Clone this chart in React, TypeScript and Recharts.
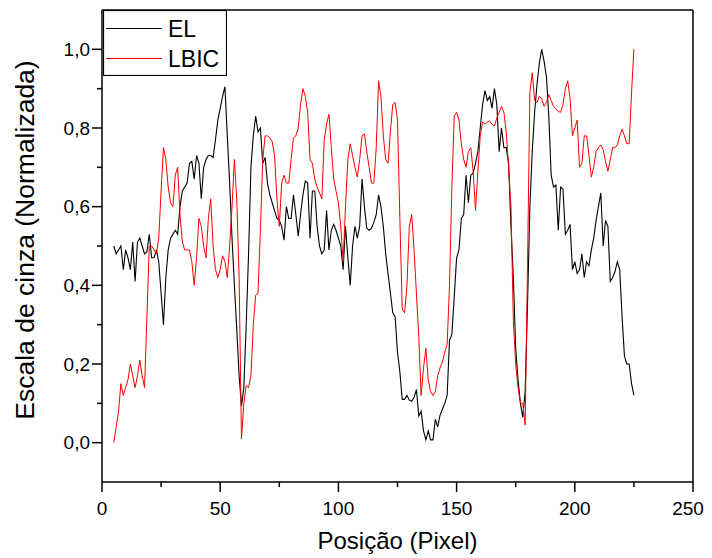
import React from 'react';
import { LineChart, Line, XAxis, YAxis, Legend, ReferenceLine } from 'recharts';

// pixel positions along the profile
const positions = Array.from({ length: 221 }, (_, i) => 5 + i);

const elValues = [
  0.5, 0.48, 0.49, 0.5, 0.44, 0.49, 0.47, 0.44, 0.51, 0.41,
  0.51, 0.52, 0.5, 0.48, 0.485, 0.53, 0.47, 0.47, 0.49, 0.46,
  0.38, 0.3, 0.42, 0.49, 0.52, 0.53, 0.54, 0.53, 0.6, 0.64,
  0.65, 0.66, 0.71, 0.715, 0.67, 0.73, 0.71, 0.62, 0.7, 0.72,
  0.73, 0.73, 0.725, 0.77, 0.82, 0.85, 0.88, 0.905, 0.78, 0.66,
  0.52, 0.4, 0.29, 0.17, 0.093, 0.14, 0.3, 0.48, 0.7, 0.78,
  0.83, 0.79, 0.8, 0.71, 0.725, 0.66, 0.63, 0.61, 0.59, 0.57,
  0.565, 0.55, 0.515, 0.6, 0.57, 0.57, 0.63, 0.58, 0.525, 0.58,
  0.63, 0.665, 0.66, 0.52, 0.64, 0.64, 0.55, 0.5, 0.48, 0.49,
  0.59, 0.49, 0.54, 0.555, 0.54, 0.52, 0.5, 0.44, 0.55, 0.47,
  0.4, 0.5, 0.55, 0.52, 0.55, 0.67, 0.6, 0.545, 0.54, 0.545,
  0.56, 0.58, 0.63, 0.6, 0.55, 0.48, 0.43, 0.38, 0.33, 0.32,
  0.23, 0.18, 0.11, 0.11, 0.12, 0.108, 0.105, 0.115, 0.135, 0.068,
  0.08, 0.03, 0.007, 0.03, 0.007, 0.007, 0.06, 0.04, 0.07, 0.085,
  0.1, 0.12, 0.26, 0.275, 0.37, 0.47, 0.49, 0.57, 0.58, 0.68,
  0.61, 0.68, 0.685, 0.71, 0.74, 0.8, 0.86, 0.895, 0.87, 0.88,
  0.85, 0.9, 0.86, 0.74, 0.8, 0.75, 0.75, 0.71, 0.55, 0.42,
  0.24, 0.16, 0.1, 0.065, 0.13, 0.35, 0.6, 0.74, 0.84, 0.91,
  0.965, 1.0, 0.97, 0.93, 0.83, 0.68, 0.65, 0.655, 0.54, 0.65,
  0.645, 0.53, 0.54, 0.555, 0.44, 0.46, 0.43, 0.44, 0.48, 0.42,
  0.46, 0.45, 0.49, 0.52, 0.565, 0.6, 0.635, 0.5, 0.565, 0.55,
  0.41, 0.42, 0.435, 0.46, 0.44, 0.32, 0.22, 0.2, 0.2, 0.15,
  0.12,
];

const lbicValues = [
  0.0, 0.04, 0.08, 0.15, 0.12, 0.14, 0.16, 0.2, 0.17, 0.14,
  0.17, 0.21, 0.17, 0.14, 0.32, 0.5, 0.5, 0.49, 0.48, 0.52,
  0.64, 0.75, 0.72, 0.65, 0.61, 0.6, 0.68, 0.7, 0.58, 0.51,
  0.49, 0.49, 0.49, 0.46, 0.4, 0.47, 0.57, 0.55, 0.5, 0.47,
  0.57, 0.62, 0.5, 0.44, 0.42, 0.44, 0.475, 0.46, 0.42, 0.5,
  0.6, 0.72, 0.62, 0.42, 0.01, 0.1, 0.145, 0.14, 0.17, 0.3,
  0.375, 0.38, 0.54, 0.72, 0.78, 0.78, 0.775, 0.765, 0.73, 0.62,
  0.55, 0.66, 0.68, 0.66, 0.66, 0.72, 0.775, 0.78, 0.8, 0.86,
  0.9, 0.88, 0.84, 0.72, 0.71, 0.67, 0.65, 0.635, 0.62, 0.77,
  0.81, 0.835, 0.75, 0.67, 0.64, 0.61, 0.55, 0.46, 0.6, 0.72,
  0.76, 0.73, 0.7, 0.675, 0.72, 0.78, 0.785, 0.74, 0.7, 0.66,
  0.66, 0.75, 0.92, 0.88, 0.78, 0.72, 0.71, 0.79, 0.86, 0.865,
  0.82, 0.57, 0.34, 0.33, 0.4, 0.55, 0.58, 0.49, 0.38, 0.27,
  0.12, 0.19, 0.24, 0.16, 0.13, 0.12, 0.13, 0.17, 0.19, 0.205,
  0.23, 0.25, 0.4, 0.65, 0.83, 0.84, 0.82, 0.76, 0.72, 0.7,
  0.74, 0.75, 0.69, 0.59, 0.69, 0.78, 0.815, 0.81, 0.815, 0.818,
  0.81, 0.805, 0.825, 0.84, 0.855, 0.84, 0.79, 0.7, 0.6, 0.31,
  0.2, 0.14, 0.1, 0.1, 0.045, 0.45, 0.89, 0.94, 0.87, 0.865,
  0.88, 0.875, 0.855, 0.865, 0.885, 0.87, 0.855, 0.848, 0.842, 0.84,
  0.86, 0.9, 0.92, 0.875, 0.78, 0.8, 0.82, 0.7, 0.71, 0.78,
  0.78, 0.73, 0.675, 0.7, 0.74, 0.75, 0.757, 0.745, 0.715, 0.69,
  0.72, 0.75, 0.75, 0.757, 0.78, 0.797, 0.78, 0.76, 0.76, 0.89,
  1.0,
];

const xTicks = [0, 25, 50, 75, 100, 125, 150, 175, 200, 225, 250];
const yTicks = [0, 0.1, 0.2, 0.3, 0.4, 0.5, 0.6, 0.7, 0.8, 0.9, 1.0];

const data = positions.map((x, i) => ({ x, el: elValues[i], lbic: lbicValues[i] }));

const FONT = '"Liberation Sans", Arial, sans-serif';

const XTick = (props: any) => {
  const { x, y, payload } = props;
  const major = payload.value % 50 === 0;
  // last label sits at the very edge of the page, nudge it in a little
  const dx = payload.value === 250 ? -5 : 0;
  return (
    <g>
      <line x1={x} x2={x} y1={y} y2={y + (major ? 10 : 5)} stroke="#000" strokeWidth={1.5} />
      {major && (
        <text x={x + dx} y={y + 33} textAnchor="middle" fontSize={19} fontFamily={FONT} fill="#000">
          {payload.value}
        </text>
      )}
    </g>
  );
};

const YTick = (props: any) => {
  const { x, y, payload } = props;
  const major = Math.round(payload.value * 10) % 2 === 0;
  return (
    <g>
      <line x1={x - (major ? 10 : 5)} x2={x} y1={y} y2={y} stroke="#000" strokeWidth={1.5} />
      {major && (
        <text x={x - 12} y={y} dy="0.35em" textAnchor="end" fontSize={19} fontFamily={FONT} fill="#000">
          {payload.value.toFixed(1).replace('.', ',')}
        </text>
      )}
    </g>
  );
};

const LegendBox = () => (
  <svg width={124} height={66}>
    <rect x={0.5} y={0.5} width={123} height={65} fill="#fff" stroke="#000" strokeWidth={1.2} />
    <line x1={3} x2={59} y1={18.5} y2={18.5} stroke="#000" strokeWidth={1} />
    <text x={65} y={26.5} fontSize={23} fontFamily={FONT} fill="#000">EL</text>
    <line x1={3} x2={59} y1={48.5} y2={48.5} stroke="#ff0000" strokeWidth={1} />
    <text x={65} y={56.5} fontSize={23} fontFamily={FONT} fill="#000">LBIC</text>
  </svg>
);

const App = () => {
  return (
    <LineChart
      width={696}
      height={550}
      data={data}
      margin={{ top: 2, right: 11, left: 0, bottom: 0 }}
      style={{ fontFamily: FONT }}
    >
      <XAxis
        type="number"
        dataKey="x"
        domain={[0, 250]}
        ticks={xTicks}
        interval={0}
        height={76}
        tickSize={0}
        tickMargin={0}
        tickLine={false}
        tick={<XTick />}
        axisLine={{ stroke: '#000', strokeWidth: 1.5 }}
        label={{ value: 'Posição (Pixel)', position: 'insideBottom', offset: 9, fontSize: 24, fill: '#000', fontFamily: FONT }}
      />
      <YAxis
        type="number"
        domain={[-0.1, 1.1]}
        ticks={yTicks}
        interval={0}
        width={94}
        tickSize={0}
        tickMargin={0}
        tickLine={false}
        tick={<YTick />}
        axisLine={{ stroke: '#000', strokeWidth: 1.5 }}
        label={() => (
          <text
            x={26}
            y={232}
            transform="rotate(-90, 26, 232)"
            textAnchor="middle"
            fontSize={26.5}
            fontFamily={FONT}
            fill="#000"
          >
            Escala de cinza (Normalizada)
          </text>
        )}
      />
      <ReferenceLine y={1.1} stroke="#000" strokeWidth={1.5} />
      <ReferenceLine x={250} stroke="#000" strokeWidth={1.5} />
      <Legend
        layout="vertical"
        align="center"
        verticalAlign="middle"
        wrapperStyle={{ top: 2, left: 94.5, width: 124, height: 66 }}
        content={() => <LegendBox />}
      />
      <Line type="linear" dataKey="el" name="EL" stroke="#000" strokeWidth={1.1} dot={false} isAnimationActive={false} />
      <Line type="linear" dataKey="lbic" name="LBIC" stroke="#ff0000" strokeWidth={1} dot={false} isAnimationActive={false} />
    </LineChart>
  );
};

export default App;
